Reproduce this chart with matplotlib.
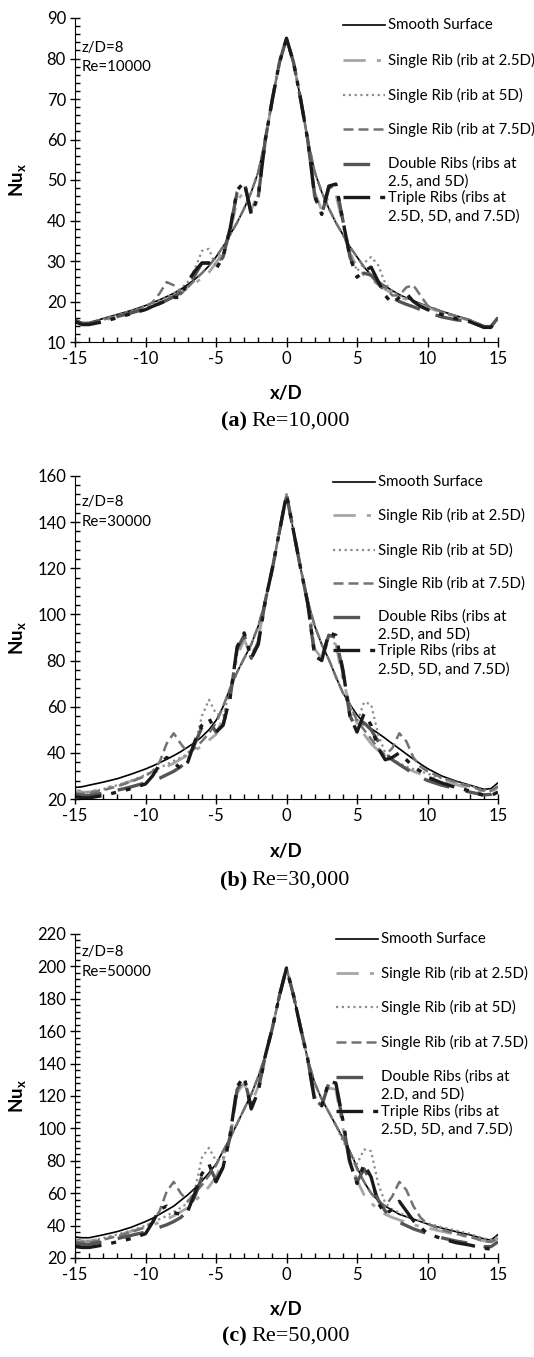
import matplotlib
matplotlib.use("Agg")
import matplotlib.pyplot as plt
from matplotlib.lines import Line2D
from matplotlib.ticker import MultipleLocator

plt.rcParams['font.family'] = ['Lato', 'DejaVu Sans']

# x/D stations shared by every series
x_d = [-15, -14.5, -14, -13, -12, -11,
       -10, -9.5, -9, -8.5, -8, -7.5, -7, -6.5, -6, -5.5, -5, -4.5, -4, -3.5, -3, -2.5, -2, -1.5, -1, -0.5,
       0,
       0.5, 1, 1.5, 2, 2.5, 3, 3.5, 4, 4.5, 5, 5.5, 6, 6.5, 7, 7.5, 8, 8.5, 9, 9.5, 10,
       11, 12, 13, 14, 14.5, 15]

# ---- Re = 10000 ----
smooth_a = [15.5, 14.8, 14.8, 15.8, 16.8, 17.8,
            19.0, 19.7, 20.4, 21.2, 22.0, 23.0, 24.2, 25.5, 27.0, 28.8, 31.0, 33.5, 36.5, 39.5, 43.0, 47.0, 52.0, 60.0, 70.0, 79.0,
            85.0,
            79.0, 70.0, 60.0, 52.0, 47.0, 43.0, 39.5, 36.5, 33.5, 31.0, 28.5, 26.5, 25.0, 23.8, 22.7, 21.7, 20.9, 20.2, 19.5, 18.8,
            17.6, 16.5, 15.5, 14.0, 13.8, 16.0]
rib25_a = [15.0, 14.5, 14.5, 15.3, 16.3, 17.2,
           18.3, 19.0, 19.7, 20.5, 21.3, 22.2, 23.3, 24.5, 25.8, 27.2, 29.5, 32.5, 37.0, 45.0, 47.0, 42.5, 47.0, 60.0, 70.0, 79.0,
           85.0,
           79.0, 70.0, 60.0, 47.0, 42.5, 46.0, 46.5, 39.0, 32.0, 28.5, 26.5, 25.5, 24.2, 23.0, 22.0, 21.2, 20.5, 19.8, 19.2, 18.5,
           17.3, 16.3, 15.3, 13.8, 13.7, 16.0]
rib5_a = [15.3, 14.8, 14.8, 15.7, 16.7, 17.7,
          18.8, 19.5, 20.2, 21.0, 22.0, 23.2, 24.8, 28.0, 32.5, 33.0, 28.5, 31.5, 36.5, 39.5, 43.0, 47.0, 52.0, 60.0, 70.0, 79.0,
          85.0,
          79.0, 70.0, 60.0, 52.0, 47.0, 43.0, 39.5, 36.5, 32.5, 27.5, 29.5, 31.0, 29.0, 24.5, 22.5, 21.5, 20.7, 20.0, 19.3, 18.7,
          17.5, 16.4, 15.4, 13.9, 13.8, 16.0]
rib75_a = [15.2, 14.6, 14.6, 15.5, 16.5, 17.5,
           18.7, 19.8, 22.0, 24.8, 24.0, 21.8, 23.5, 25.3, 27.0, 28.8, 31.0, 33.5, 36.5, 39.5, 43.0, 47.0, 52.0, 60.0, 70.0, 79.0,
           85.0,
           79.0, 70.0, 60.0, 52.0, 47.0, 43.0, 39.5, 36.5, 33.5, 31.0, 28.5, 26.5, 25.0, 23.5, 21.5, 21.5, 23.5, 24.0, 21.5, 19.0,
           17.5, 16.4, 15.4, 13.9, 13.8, 16.0]
double_a = [15.5, 14.5, 14.5, 15.3, 16.3, 17.2,
            18.2, 18.8, 19.5, 20.3, 21.2, 22.2, 23.5, 26.5, 29.5, 29.5, 28.5, 31.0, 38.0, 47.0, 49.5, 42.0, 46.0, 60.0, 70.0, 79.0,
            85.0,
            79.0, 70.0, 60.0, 46.0, 41.5, 48.0, 49.0, 40.0, 31.0, 26.5, 27.0, 26.5, 24.5, 22.5, 21.0, 20.0, 19.3, 18.7, 18.0, 17.3,
            16.2, 15.5, 15.0, 13.8, 13.8, 16.0]
triple_a = [15.0, 14.3, 14.3, 15.0, 16.0, 17.0,
            18.0, 18.8, 19.5, 20.3, 21.0, 21.0, 25.0, 27.5, 29.5, 29.5, 28.0, 31.0, 38.0, 47.5, 49.5, 41.5, 46.0, 60.0, 70.0, 79.0,
            85.0,
            79.0, 70.0, 60.0, 46.0, 41.5, 48.5, 49.0, 40.0, 31.0, 26.0, 27.5, 28.5, 25.0, 21.5, 19.5, 21.0, 22.0, 20.0, 18.8, 18.0,
            16.8, 15.8, 15.0, 13.6, 13.6, 16.0]

# ---- Re = 30000 ----
smooth_b = [25.0, 25.3, 26.0, 27.3, 28.8, 30.8,
            33.0, 34.3, 35.7, 37.2, 38.8, 40.5, 42.5, 44.5, 47.0, 50.0, 54.0, 60.0, 68.0, 75.0, 81.0, 87.0, 95.0, 106.0, 120.0, 136.0,
            152.0,
            136.0, 120.0, 106.0, 95.0, 87.0, 80.5, 73.0, 66.0, 61.0, 56.5, 53.0, 50.5, 48.5, 46.3, 44.0, 41.8, 39.5, 37.3, 35.2, 33.2,
            30.0, 27.8, 26.0, 24.2, 24.5, 27.0]
rib25_b = [23.5, 23.0, 23.0, 24.5, 26.0, 27.8,
           30.0, 31.2, 32.5, 34.0, 35.5, 37.3, 39.0, 41.0, 43.0, 45.5, 48.0, 55.0, 65.0, 82.0, 89.0, 82.0, 89.0, 106.0, 120.0, 136.0,
           152.0,
           136.0, 120.0, 106.0, 85.0, 81.0, 89.0, 87.0, 72.0, 60.0, 53.0, 48.0, 44.0, 41.0, 38.5, 36.5, 34.8, 33.3, 32.0, 30.8, 29.7,
           27.8, 26.2, 24.8, 23.0, 23.0, 25.0]
rib5_b = [23.0, 22.8, 23.0, 24.3, 26.0, 28.0,
          30.5, 32.0, 33.5, 35.0, 36.5, 38.0, 39.5, 43.0, 56.0, 63.0, 57.0, 56.0, 67.0, 75.0, 81.0, 87.0, 95.0, 106.0, 120.0, 136.0,
          152.0,
          136.0, 120.0, 106.0, 95.0, 87.0, 80.5, 73.0, 66.0, 60.0, 53.0, 62.0, 61.0, 48.0, 40.0, 37.0, 35.5, 34.0, 33.0, 32.0, 31.0,
          29.0, 27.3, 25.8, 23.8, 23.8, 26.0]
rib75_b = [22.5, 22.2, 22.5, 23.8, 25.5, 27.5,
           30.0, 32.0, 36.0, 44.0, 48.5, 44.0, 40.0, 42.0, 45.0, 48.5, 53.0, 60.0, 68.0, 75.0, 81.0, 87.0, 95.0, 106.0, 120.0, 136.0,
           152.0,
           136.0, 120.0, 106.0, 95.0, 87.0, 80.5, 73.0, 66.0, 61.0, 54.0, 50.0, 46.0, 42.0, 39.0, 42.0, 48.5, 45.0, 38.0, 34.0, 32.0,
           29.3, 27.3, 25.5, 23.5, 23.5, 25.5]
double_b = [22.0, 21.5, 21.5, 22.5, 23.8, 25.3,
            27.0, 28.0, 29.0, 30.5, 32.0, 34.0, 37.0, 44.0, 51.0, 54.0, 49.0, 52.0, 64.0, 85.0, 91.0, 81.0, 88.0, 106.0, 120.0, 136.0,
            152.0,
            136.0, 120.0, 105.0, 82.0, 81.0, 91.0, 90.0, 75.0, 56.0, 50.0, 53.0, 50.0, 45.0, 40.0, 37.0, 35.0, 33.0, 31.0, 29.5, 28.0,
            26.0, 24.5, 23.0, 21.8, 22.0, 24.0]
triple_b = [21.0, 20.5, 20.5, 21.5, 23.0, 24.5,
            26.5, 30.0, 35.0, 38.0, 36.0, 33.0, 36.0, 45.0, 52.0, 55.0, 49.0, 52.0, 64.0, 86.0, 92.0, 81.0, 87.0, 106.0, 120.0, 136.0,
            152.0,
            136.0, 120.0, 105.0, 82.0, 80.0, 92.0, 91.0, 76.0, 56.0, 49.0, 57.0, 52.0, 42.0, 37.0, 38.0, 40.0, 37.0, 34.0, 32.0, 29.5,
            27.0, 25.0, 23.5, 21.5, 21.5, 23.0]

# ---- Re = 50000 ----
smooth_c = [33.0, 32.5, 32.5, 34.3, 36.3, 39.0,
            42.5, 44.5, 47.0, 49.5, 52.0, 55.5, 59.0, 63.0, 67.5, 72.5, 78.0, 86.0, 94.0, 103.0, 112.0, 121.0, 132.0, 145.0, 162.0, 182.0,
            199.0,
            182.0, 162.0, 143.0, 128.0, 118.0, 110.0, 102.0, 94.0, 86.0, 76.0, 67.0, 60.0, 55.5, 52.0, 49.5, 47.0, 45.5, 44.0, 42.5, 41.0,
            38.5, 36.3, 34.3, 31.8, 31.0, 34.5]
rib25_c = [31.0, 30.5, 30.5, 32.0, 34.0, 36.5,
           39.0, 40.5, 42.0, 44.0, 46.0, 48.5, 51.0, 55.0, 59.5, 64.0, 70.0, 80.0, 94.0, 122.0, 128.0, 115.0, 126.0, 145.0, 162.0, 182.0,
           199.0,
           182.0, 162.0, 143.0, 120.0, 114.0, 125.0, 124.0, 100.0, 80.0, 68.0, 59.0, 54.0, 50.0, 47.0, 45.0, 43.5, 42.0, 40.5, 39.5, 38.5,
           36.5, 34.5, 33.0, 30.5, 30.0, 32.0]
rib5_c = [31.0, 30.5, 30.5, 32.3, 34.5, 37.0,
          40.0, 42.0, 44.0, 46.0, 48.5, 51.0, 54.0, 62.0, 82.0, 88.0, 80.0, 82.0, 94.0, 103.0, 112.0, 121.0, 132.0, 145.0, 162.0, 182.0,
          199.0,
          182.0, 162.0, 143.0, 128.0, 118.0, 110.0, 102.0, 92.0, 85.0, 78.0, 87.0, 86.0, 66.0, 54.0, 50.0, 48.0, 46.0, 44.3, 42.8, 41.5,
          39.0, 37.0, 35.0, 32.0, 31.5, 33.0]
rib75_c = [30.0, 29.5, 29.5, 31.3, 33.5, 36.0,
           39.0, 42.0, 49.0, 61.0, 67.0, 60.0, 55.0, 60.0, 65.0, 71.0, 77.0, 86.0, 94.0, 103.0, 112.0, 121.0, 132.0, 145.0, 162.0, 182.0,
           199.0,
           182.0, 162.0, 143.0, 128.0, 118.0, 110.0, 102.0, 94.0, 85.0, 75.0, 67.0, 60.0, 55.0, 52.0, 58.0, 67.0, 62.0, 52.0, 45.0, 41.0,
           37.5, 35.0, 33.0, 30.5, 30.0, 32.0]
double_c = [29.0, 28.5, 28.5, 30.0, 32.0, 34.0,
            36.0, 37.5, 39.0, 40.5, 42.5, 45.0, 49.0, 58.0, 70.0, 77.0, 68.0, 76.0, 95.0, 124.0, 131.0, 113.0, 124.0, 145.0, 162.0, 182.0,
            199.0,
            182.0, 162.0, 143.0, 118.0, 114.0, 128.0, 127.0, 104.0, 78.0, 67.0, 75.0, 67.0, 56.0, 49.0, 45.0, 42.0, 40.0, 38.0, 36.5, 35.0,
            32.5, 30.5, 29.0, 27.0, 27.0, 30.0]
triple_c = [27.0, 26.5, 26.5, 28.0, 30.0, 32.0,
            35.0, 42.0, 50.0, 52.0, 48.0, 47.0, 49.0, 60.0, 72.0, 78.0, 67.0, 76.0, 96.0, 126.0, 132.0, 112.0, 123.0, 145.0, 162.0, 182.0,
            199.0,
            182.0, 162.0, 143.0, 117.0, 114.0, 129.0, 128.0, 105.0, 79.0, 66.0, 78.0, 70.0, 54.0, 47.0, 50.0, 55.0, 49.0, 43.0, 39.0, 35.0,
            32.0, 29.5, 28.0, 26.0, 25.5, 28.0]

# line styles per series (Excel-like greyscale)
styles = [
    dict(color='#000000', lw=1.2, ls='-'),
    dict(color='#a6a6a6', lw=2.0, dashes=(8, 4, 1.5, 4)),
    dict(color='#8c8c8c', lw=1.6, dashes=(1, 1.6)),
    dict(color='#737373', lw=1.8, dashes=(4, 2)),
    dict(color='#555555', lw=2.4, dashes=(8, 5)),
    dict(color='#1a1a1a', lw=2.4, dashes=(8, 3, 1.5, 3, 1.5, 3)),
]

W, H = 534, 1357
fig = plt.figure(figsize=(W / 100, H / 100), dpi=100)


def fx(x):
    return x / W


def fy(y):
    return 1 - y / H


panels = [
    dict(series=[smooth_a, rib25_a, rib5_a, rib75_a, double_a, triple_a],
         top=18, bottom=342, ylim=(10, 90), major=10, minor=2, re='10000',
         cap_tag='(a)', cap='Re=10,000', xlab=393, caplab=421, dbl='2.5, and 5D)',
         leg=(343, 385, 388, [25, 60, 95, 129, 164, 182, 197, 217]),
         note=(48, 67)),
    dict(series=[smooth_b, rib25_b, rib5_b, rib75_b, double_b, triple_b],
         top=476, bottom=799, ylim=(20, 160), major=20, minor=4, re='30000',
         cap_tag='(b)', cap='Re=30,000', xlab=852, caplab=880, dbl='2.5D, and 5D)',
         leg=(333, 375, 378, [482, 515, 550, 583, 617, 635, 650, 670]),
         note=(502, 522)),
    dict(series=[smooth_c, rib25_c, rib5_c, rib75_c, double_c, triple_c],
         top=934, bottom=1258, ylim=(20, 220), major=20, minor=4, re='50000',
         cap_tag='(c)', cap='Re=50,000', xlab=1310, caplab=1336, dbl='2.D, and 5D)',
         leg=(336, 378, 381, [939, 973, 1007, 1042, 1077, 1095, 1111, 1130]),
         note=(952, 972)),
]

left_px, right_px = 75, 498
leg_fs = 10.8
leg_labels = ['Smooth Surface', 'Single Rib (rib at 2.5D)', 'Single Rib (rib at 5D)',
              'Single Rib (rib at 7.5D)', 'Double Ribs (ribs at', 'Triple Ribs (ribs at']

for p in panels:
    ax = fig.add_axes([fx(left_px), fy(p['bottom']), (right_px - left_px) / W,
                       (p['bottom'] - p['top']) / H])
    for ys, st in zip(p['series'], styles):
        ax.plot(x_d, ys, solid_capstyle='round', dash_capstyle='butt', **st)
    ax.set_xlim(-15, 15)
    ax.set_ylim(*p['ylim'])
    ax.xaxis.set_major_locator(MultipleLocator(5))
    ax.xaxis.set_minor_locator(MultipleLocator(1))
    ax.yaxis.set_major_locator(MultipleLocator(p['major']))
    ax.yaxis.set_minor_locator(MultipleLocator(p['minor']))
    ax.tick_params(which='major', direction='inout', length=7, width=1, labelsize=12, pad=3)
    ax.tick_params(which='minor', direction='in', length=3.5, width=1)
    ax.spines['top'].set_visible(False)
    ax.spines['right'].set_visible(False)
    ax.xaxis.set_major_formatter(plt.FuncFormatter(lambda v, _: f'{v:.0f}'))
    ax.patch.set_alpha(0)

    fig.text(fx(286), fy(p['xlab']), 'x/D', ha='center', va='center',
             fontsize=13.5, fontweight='bold')
    fig.text(fx(18), fy((p['top'] + p['bottom']) / 2), r'Nu$_\mathregular{x}$',
             ha='center', va='center', rotation=90, fontsize=13.5, fontweight='bold')
    fig.text(fx(82), fy(p['note'][0]), 'z/D=8', ha='left', va='center', fontsize=leg_fs)
    fig.text(fx(82), fy(p['note'][1]), 'Re=' + p['re'], ha='left', va='center', fontsize=leg_fs)

    fig.text(fx(247), fy(p['caplab']), p['cap_tag'], ha='right', va='center',
             fontsize=16, fontweight='bold', family='Liberation Serif')
    fig.text(fx(251), fy(p['caplab']), p['cap'], ha='left', va='center',
             fontsize=16, family='Liberation Serif')

    # legend drawn to the right like the Excel one
    x0, x1, xt, rows = p['leg']
    line_rows = [rows[0], rows[1], rows[2], rows[3], rows[4], rows[6]]
    for lab, st, yy in zip(leg_labels, styles, line_rows):
        fig.add_artist(Line2D([fx(x0), fx(x1)], [fy(yy), fy(yy)], transform=fig.transFigure, **st))
        fig.text(fx(xt), fy(yy), lab, ha='left', va='center', fontsize=leg_fs)
    fig.text(fx(xt), fy(rows[5]), p['dbl'], ha='left', va='center', fontsize=leg_fs)
    fig.text(fx(xt), fy(rows[7]), '2.5D, 5D, and 7.5D)', ha='left', va='center', fontsize=leg_fs)

fig.savefig('out.png', dpi=100)
